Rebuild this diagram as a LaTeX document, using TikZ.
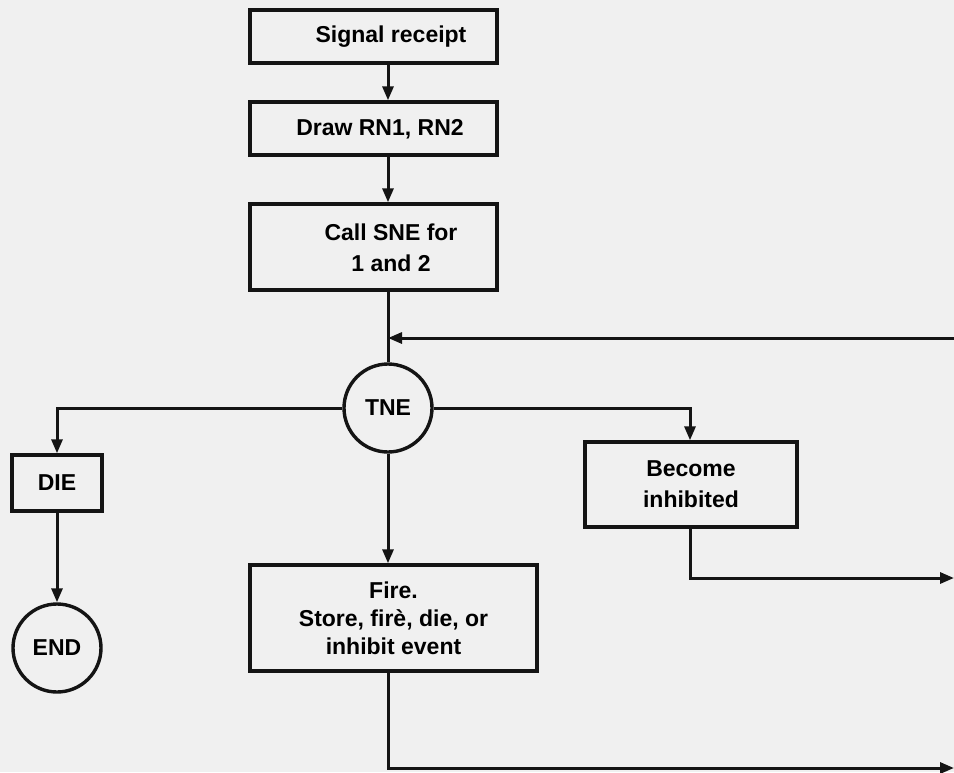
\documentclass[tikz,border=0pt]{standalone}
\usepackage{fontspec}
\setmainfont{Liberation Sans}
\usetikzlibrary{arrows.meta,calc}
\definecolor{paper}{RGB}{240,240,240}
\definecolor{ink}{RGB}{20,20,20}
\begin{document}
\begin{tikzpicture}[x=1pt,y=-1pt,
  box/.style={draw=ink,line width=3.4pt,fill=none,inner sep=0pt,align=center,
    font=\fontsize{23}{31}\selectfont\bfseries},
  lbl/.style={inner sep=0pt,align=center,font=\fontsize{23}{31}\selectfont\bfseries},
  circ/.style={draw=ink,line width=3.4pt,circle,minimum size=88pt,inner sep=0pt,
    font=\fontsize{23}{31}\selectfont\bfseries},
  conn/.style={draw=ink,line width=3pt},
  arr/.style={conn,-{Triangle[length=14pt,width=11pt]}}
]
\fill[paper] (0,0) rectangle (954,772);
\useasboundingbox (0,0) rectangle (954,772);

\node[box,minimum width=247pt,minimum height=53pt] (sig) at (373.5,36.5) {};
\node[lbl] (sigT) at (391,37) {Signal receipt};
\node[box,minimum width=247pt,minimum height=53pt] (draw) at (373.5,128.5) {};
\node[lbl] (drawT) at (380,129) {Draw RN1, RN2};
\node[box,minimum width=247pt,minimum height=86pt] (call) at (373.5,247) {};
\node[lbl] (callT) at (391,248) {Call SNE for\\1 and 2};
\node[circ] (tne) at (388,408) {TNE};
\node[box,minimum width=90pt,minimum height=56pt] (die) at (57,483) {DIE};
\node[circ] (end) at (57,648) {END};
\node[box,minimum width=212pt,minimum height=85pt] (inh) at (691,484.5) {Become\\inhibited};
\node[box,minimum width=287pt,minimum height=106pt,
  font=\fontsize{23}{28}\selectfont\bfseries] (fire) at (393.5,618) {Fire.\\Store, fir\`e, die, or\\inhibit event};

\coordinate (fbR) at (954,338);
\coordinate (fbJ) at (388,338);
\coordinate (dieTurn) at (57,408);
\coordinate (inhTurn) at (690,408);
\coordinate (inhDown) at (690,578);
\coordinate (inhOut) at (954,578);
\coordinate (fireDown) at (388,768);
\coordinate (fireOut) at (954,768);

\draw[arr] (sig.south -| fbJ) -- (draw.north -| fbJ);
\draw[arr] (draw.south -| fbJ) -- (call.north -| fbJ);
\draw[conn] (call.south -| fbJ) -- (tne.north);
\draw[arr] (fbR) -- (fbJ);
\draw[arr] (tne.west) -- (dieTurn) -- (die.north);
\draw[arr] (tne.east) -- (inhTurn) -- (inh.north -| inhTurn);
\draw[arr] (tne.south) -- (fire.north -| tne);
\draw[arr] (die.south) -- (end.north);
\draw[arr] (inh.south -| inhTurn) -- (inhDown) -- (inhOut);
\draw[arr] (fire.south -| tne) -- (fireDown) -- (fireOut);
\end{tikzpicture}
\end{document}
